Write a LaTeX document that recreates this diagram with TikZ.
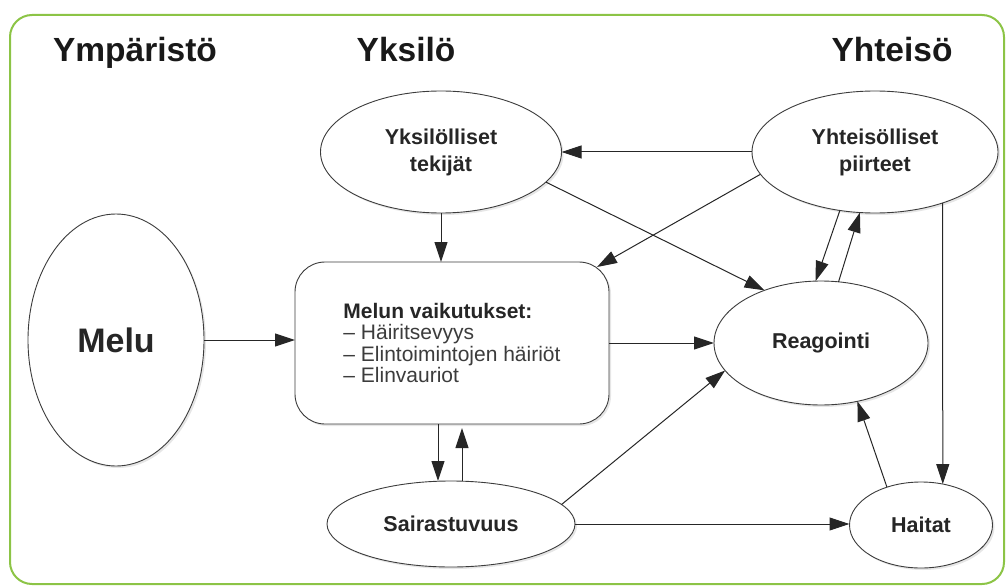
\documentclass[tikz,border=0pt]{standalone}
\usepackage{fontspec}
\setmainfont{Liberation Sans}
\usetikzlibrary{arrows.meta,shapes.geometric,shadows}
\definecolor{framegreen}{RGB}{140,196,70}
\definecolor{edgegray}{RGB}{60,60,60}
\definecolor{itemgray}{RGB}{60,60,60}
\begin{document}
\begin{tikzpicture}[x=1pt,y=-1pt,
  shad/.style={drop shadow={opacity=0.2,shadow xshift=2pt,shadow yshift=-2pt}},
  oval/.style={ellipse,draw=edgegray,line width=0.9pt,fill=white,inner sep=0pt,outer sep=0pt,shad,
    font=\fontsize{21.5}{27}\selectfont\bfseries,text=black!85,align=center},
  arr/.style={-{Triangle[length=20pt,width=13pt]},line width=1pt,draw=black!85},
  title/.style={font=\fontsize{33.5}{40}\selectfont\bfseries,text=black!90,anchor=base}]
\useasboundingbox (0,0) rectangle (1008,588);
\draw[framegreen,line width=2pt,rounded corners=22pt] (10,15) rectangle (1004,584);

\node[title] (t1) at (135,62) {Ympäristö};
\node[title] (t2) at (406,62) {Yksilö};
\node[title] (t3) at (892,62) {Yhteisö};

\node[oval,minimum width=176pt,minimum height=252pt,font=\fontsize{34}{40}\selectfont\bfseries] (melu) at (116,340) {Melu};
\node[oval,minimum width=241pt,minimum height=122pt] (yks) at (441,152) {Yksilölliset\\tekijät};
\node[oval,minimum width=246pt,minimum height=122pt] (yht) at (875,152) {Yhteisölliset\\piirteet};
\node[oval,minimum width=214pt,minimum height=124pt] (reag) at (821,343) {Reagointi};
\node[oval,minimum width=248pt,minimum height=86pt] (sair) at (451,524) {Sairastuvuus};
\node[oval,minimum width=143pt,minimum height=86pt] (hait) at (921,525) {Haitat};
\node[draw=edgegray,line width=0.9pt,fill=white,rounded corners=30pt,shad,
  minimum width=314pt,minimum height=162pt,inner sep=0pt,outer sep=0pt,align=left,
  font=\fontsize{21}{21.5}\selectfont,text=itemgray] (box) at (452,343)
  {{\bfseries\color{black!85}Melun vaikutukset:}\\– Häiritsevyys\\– Elintoimintojen häiriöt\\– Elinvauriot};

\draw[arr] (melu.east) -- (melu.east -| box.west);
\draw[arr] (yht.west) -- (yks.east);
\draw[arr] (yks.south) -- (yks.south |- box.north);
\draw[arr] (yks.-16) -- (reag.137);
\draw[arr] (yht.191) -- ([shift={(-12,5)}]box.north east);
\draw[arr] (yht.239) -- (reag.95);
\draw[arr] (reag.74) -- (yht.256);
\draw[arr] (yht.-37) -- (hait.62);
\draw[arr] (hait.132) -- (reag.302);
\draw[arr] (box.east) -- (reag.west);
\draw[arr] ([xshift=-14pt]box.south) -- ([xshift=-14pt]box.south |- sair.north);
\draw[arr] ([xshift=11pt]sair.north) -- ([xshift=11pt,yshift=-4pt]sair.north |- box.south);
\draw[arr] (sair.10) -- (reag.196);
\draw[arr] (sair.east) -- (sair.east -| hait.west);
\end{tikzpicture}
\end{document}
